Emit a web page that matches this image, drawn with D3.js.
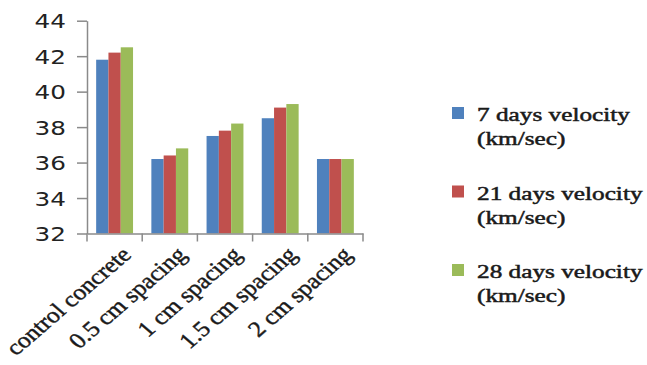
<!DOCTYPE html>
<html>
<head>
<meta charset="utf-8">
<script src="https://cdn.jsdelivr.net/npm/d3@7"></script>
<style>
  html, body { margin: 0; padding: 0; background: #fff; }
  svg { display: block; }
</style>
</head>
<body>
<svg id="chart" width="647" height="365"></svg>
<script>
// Ultrasonic pulse velocity by fibre spacing
const categories = ["control concrete", "0.5 cm spacing", "1 cm spacing", "1.5 cm spacing", "2 cm spacing"];
const seriesNames = ["7 days velocity", "21 days velocity", "28 days velocity"];
const seriesUnit = "(km/sec)";
const velocity7 = [41.8, 36.2, 37.5, 38.5, 36.2];
const velocity21 = [42.2, 36.4, 37.8, 39.1, 36.2];
const velocity28 = [42.5, 36.8, 38.2, 39.3, 36.2];
const yTicks = [32, 34, 36, 38, 40, 42, 44];

const colors = ["#4F81BD", "#C0504D", "#9BBB59"];
const seriesValues = [velocity7, velocity21, velocity28];
const rows = categories.map((c, i) => ({
  category: c,
  values: seriesNames.map((s, k) => ({ key: s, value: seriesValues[k][i], color: colors[k] }))
}));

const svg = d3.select("#chart");
const sx = 1.3;           // wide glyph look used for all text
const axisColor = "#8a8a8a";
const serif = "'Liberation Serif', 'Times New Roman', serif";

const x0 = d3.scaleBand().domain(categories).range([87, 363]).padding(0);
const x1 = d3.scaleBand().domain(seriesNames).range([0, x0.bandwidth()]).paddingInner(0).paddingOuter(0.745);
const y = d3.scaleLinear().domain([32, 44]).range([233.5, 20.7]);

// bars
const groups = svg.append("g").selectAll("g").data(rows).join("g")
  .attr("transform", d => `translate(${x0(d.category)},0)`);
groups.selectAll("rect").data(d => d.values).join("rect")
  .attr("x", d => x1(d.key))
  .attr("width", x1.bandwidth())
  .attr("y", d => y(d.value))
  .attr("height", d => y(32) - y(d.value))
  .attr("fill", d => d.color);

// y axis
const yAxis = svg.append("g").attr("transform", "translate(87,0)")
  .call(d3.axisLeft(y).tickValues(yTicks).tickSize(10).tickSizeOuter(0).tickPadding(0));
yAxis.select(".domain").attr("stroke", axisColor).attr("stroke-width", 1.5);
yAxis.selectAll(".tick line").attr("stroke", axisColor).attr("stroke-width", 1.5);
yAxis.selectAll(".tick text")
  .attr("x", null).attr("dy", null)
  .attr("transform", `translate(-21,7) scale(${sx},1)`)
  .attr("text-anchor", "end")
  .attr("font-family", "'DejaVu Sans', sans-serif")
  .attr("font-size", 19)
  .attr("fill", "#222");

// x axis with ticks on category boundaries
const xAxis = svg.append("g").attr("transform", `translate(0,${y(32)})`)
  .call(d3.axisBottom(x0).tickSize(0).tickFormat(""));
xAxis.select(".domain").attr("stroke", axisColor).attr("stroke-width", 1.5);
const bounds = d3.range(categories.length + 1).map(i => x0.range()[0] + i * x0.step());
xAxis.selectAll(".bound").data(bounds).join("line")
  .attr("class", "bound")
  .attr("x1", d => d).attr("x2", d => d)
  .attr("y1", 0).attr("y2", 8)
  .attr("stroke", axisColor).attr("stroke-width", 1.5);

// rotated category labels
svg.append("g").selectAll("text").data(categories).join("text")
  .attr("transform", d => `translate(${x0(d) + x0.bandwidth() / 2 + 18},256) scale(1.16,1) rotate(-45)`)
  .attr("text-anchor", "end")
  .attr("font-family", serif)
  .attr("font-size", 22)
  .attr("fill", "#1a1a1a")
  .attr("stroke", "#1a1a1a")
  .attr("stroke-width", 0.45)
  .text(d => d);

// legend
const legend = svg.append("g").selectAll("g").data(seriesNames).join("g")
  .attr("transform", (d, i) => `translate(452,${107 + i * 78.5})`);
legend.append("rect")
  .attr("width", 12).attr("height", 12)
  .attr("fill", (d, i) => colors[i]);
const lt = legend.append("text")
  .attr("transform", "translate(25,14) scale(1.33,1)")
  .attr("font-family", serif)
  .attr("font-size", 19)
  .attr("fill", "#1a1a1a")
  .attr("stroke", "#1a1a1a")
  .attr("stroke-width", 0.5);
lt.append("tspan").attr("x", 0).attr("y", 0).text(d => d);
lt.append("tspan").attr("x", 0).attr("y", 24.5).text(seriesUnit);
</script>
</body>
</html>
